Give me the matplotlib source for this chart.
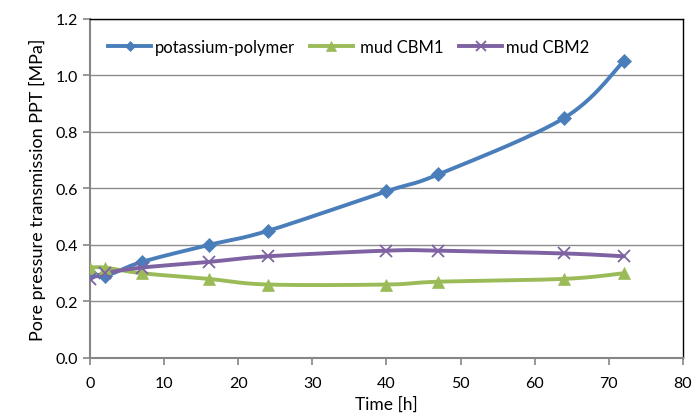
import numpy as np
import matplotlib
matplotlib.use("Agg")
import matplotlib.pyplot as plt

plt.rcParams['font.family'] = ['Lato', 'DejaVu Sans']

# data
time_h = [0, 2, 7, 16, 24, 40, 47, 64, 72]
potassium = [0.30, 0.29, 0.34, 0.40, 0.45, 0.59, 0.65, 0.85, 1.05]
cbm1 = [0.32, 0.32, 0.30, 0.28, 0.26, 0.26, 0.27, 0.28, 0.30]
cbm2 = [0.28, 0.30, 0.32, 0.34, 0.36, 0.38, 0.38, 0.37, 0.36]

labels = ["potassium-polymer", " mud CBM1", "mud CBM2"]
colors = ["#4A7EBB", "#9BBB59", "#7F62A1"]
markers = ["D", "^", "x"]


def smooth(x, y, xs=80.0, ys=1.2, n=30):
    # Catmull-Rom path through the points, like Excel's smoothed line
    p = np.column_stack([np.asarray(x) / xs, np.asarray(y) / ys * 0.57])
    p = np.vstack([p[0], p, p[-1]])
    out = []
    for i in range(1, len(p) - 2):
        p0, p1, p2, p3 = p[i - 1], p[i], p[i + 1], p[i + 2]
        t = np.linspace(0, 1, n)[:, None]
        c = 0.5 * ((2 * p1) + (-p0 + p2) * t + (2 * p0 - 5 * p1 + 4 * p2 - p3) * t ** 2
                   + (-p0 + 3 * p1 - 3 * p2 + p3) * t ** 3)
        out.append(c)
    c = np.vstack(out)
    return c[:, 0] * xs, c[:, 1] / 0.57 * ys


fig = plt.figure(figsize=(6.94, 4.14), dpi=100)
ax = fig.add_axes([0.1297, 0.1329, 0.8544, 0.8188])

for ser, lab, col, mk in zip([potassium, cbm1, cbm2], labels, colors, markers):
    sx, sy = smooth(time_h, ser)
    ax.plot(sx, sy, color=col, lw=2.8, solid_capstyle='round', zorder=3)
    ms = 7 if mk == "D" else 9
    ax.plot(time_h, ser, linestyle='none', marker=mk, color=col, markersize=ms,
            markeredgewidth=1.3 if mk == "x" else 0.5, zorder=4)
    ax.plot([], [], color=col, lw=2.8, marker=mk, markersize=ms * 0.8,
            markeredgewidth=1.3 if mk == "x" else 0.5, label=lab)

ax.set_xlim(0, 80)
ax.set_ylim(0, 1.2)
ax.set_xticks(np.arange(0, 81, 10))
ax.set_yticks(np.arange(0, 1.21, 0.2))
ax.set_yticklabels([f"{v:.1f}" for v in np.arange(0, 1.21, 0.2)])
ax.yaxis.grid(True, color="#8c8c8c", lw=1.0)
ax.set_axisbelow(True)

for s in ["left", "bottom"]:
    ax.spines[s].set_color("#868686")
    ax.spines[s].set_linewidth(1.5)
for s in ["top", "right"]:
    ax.spines[s].set_color("black")
    ax.spines[s].set_linewidth(1.0)
ax.tick_params(axis='both', colors="#868686", length=5, width=1.2, labelsize=11.5,
               labelcolor="black")
ax.tick_params(axis='x', pad=8)

ax.set_xlabel("Time [h]", fontsize=12.5, labelpad=4)
ax.set_ylabel("Pore pressure transmission PPT [MPa]", fontsize=13, labelpad=7)

ax.legend(loc='upper left', bbox_to_anchor=(0.005, 0.985), ncol=3, frameon=False,
          fontsize=12, handlelength=2.6, columnspacing=0.9, handletextpad=0.2)

fig.savefig("out.png", dpi=100)
